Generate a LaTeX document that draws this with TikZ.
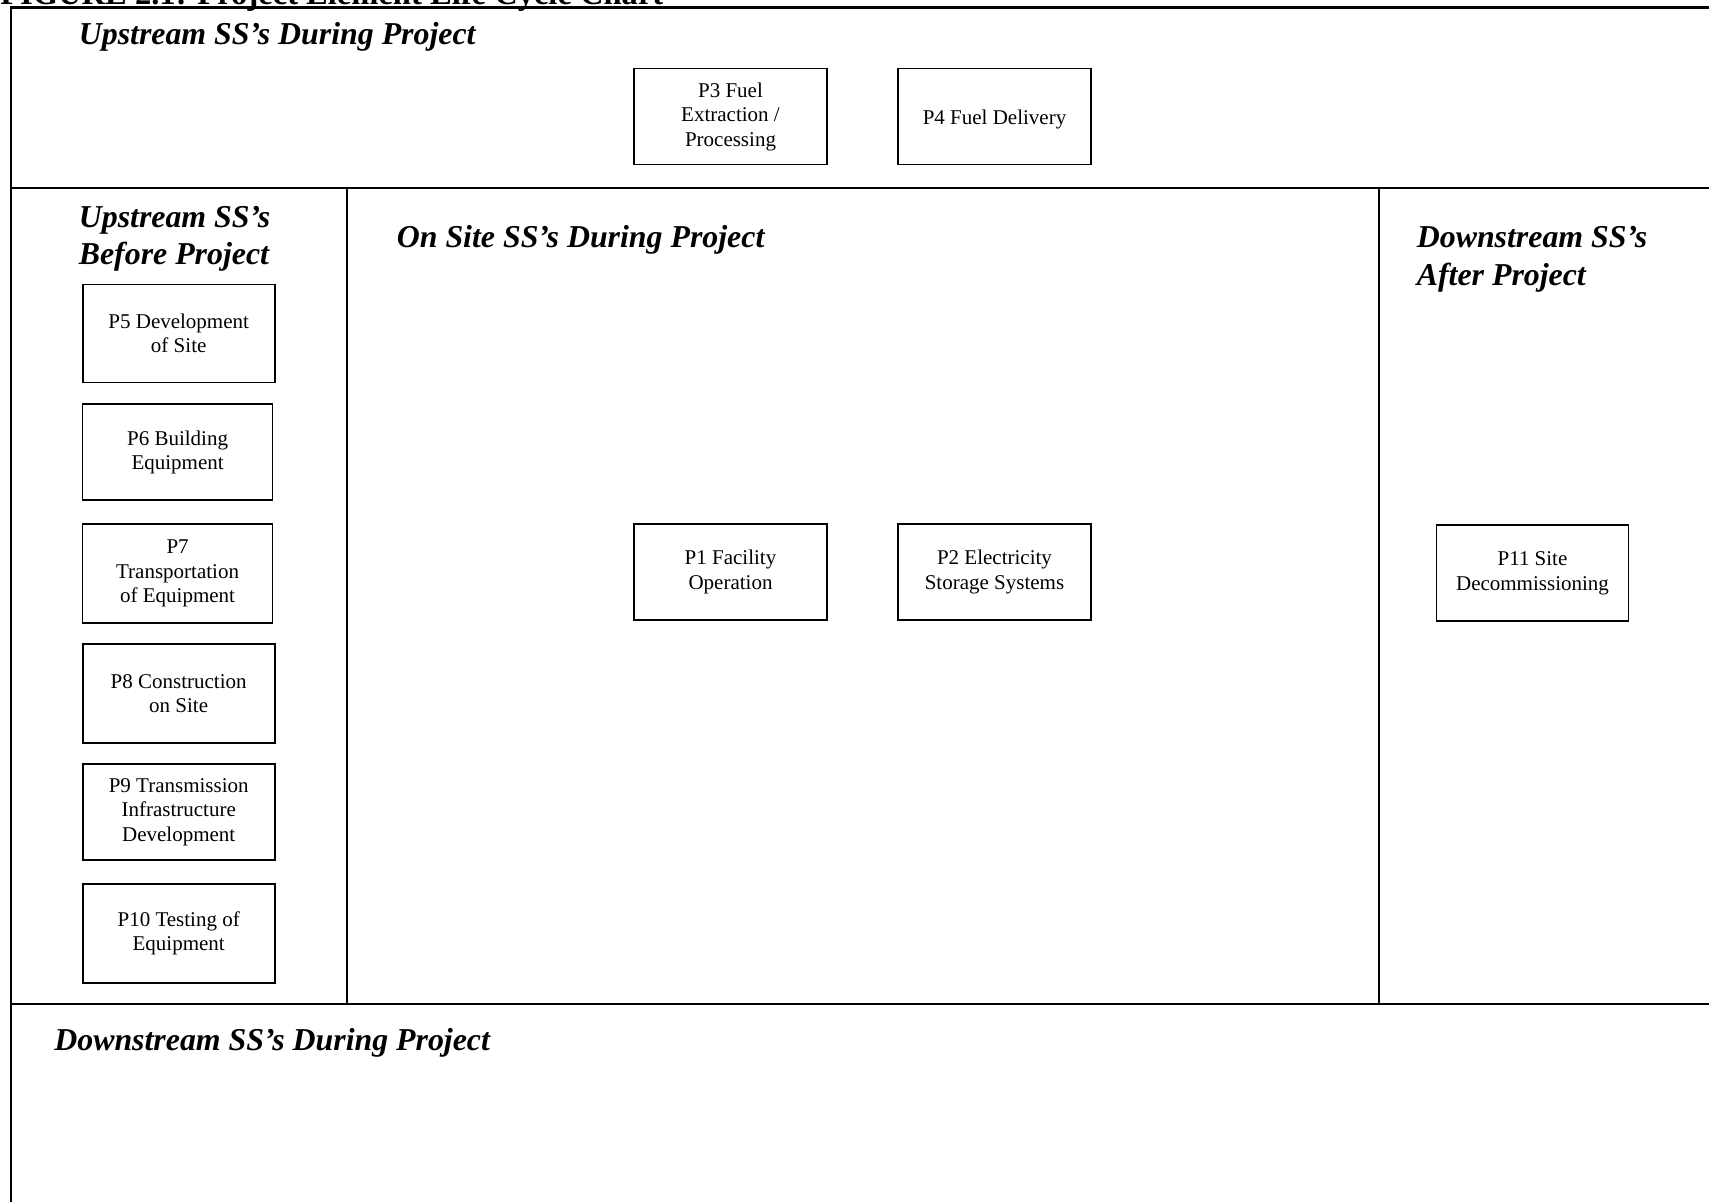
\documentclass[tikz,border=0pt]{standalone}
\usepackage{fontspec}
\setmainfont{Liberation Serif}
\begin{document}
\begin{tikzpicture}[x=0.5714pt, y=-0.5714pt,
  box/.style={draw, line width=1pt, align=center, inner sep=0pt,
    font=\fontsize{12}{14}\selectfont,
    execute at begin node={\rule{0pt}{12pt}}},
  bsize/.style 2 args={minimum width=#1*0.5714pt, minimum height=#2*0.5714pt},
  head/.style={anchor=base west, inner sep=0pt,
    font=\fontsize{18.2}{21}\selectfont\bfseries\itshape},
  frameline/.style={line width=1.15pt}]
\useasboundingbox (0,0) rectangle (1709,1202);
\clip (0,0) rectangle (1709,1202);

% title (cut off at the top)
\node[anchor=base west, inner sep=0pt, font=\fontsize{18.6}{21}\selectfont\bfseries]
  (title) at (0,5) {FIGURE 2.1: Project Element Life Cycle Chart};

% frame and region dividers
\coordinate (tl) at (11,7.5);
\draw[frameline] (11,1230) -- (tl) -- (1730,7.5);
\draw[frameline] (11,188) -- (1730,188);
\draw[frameline] (347,188) -- (347,1004);
\draw[frameline] (1379,188) -- (1379,1004);
\draw[frameline] (11,1004) -- (1730,1004);

% headings
\node[head] (hUp) at (78.5,45) {Upstream SS’s During Project};
\node[head] (hBefA) at (78.5,228) {Upstream SS’s};
\node[head] (hBefB) at (78.5,265) {Before Project};
\node[head] (hOn) at (396.5,247.5) {On Site SS’s During Project};
\node[head] (hAftA) at (1416.5,248) {Downstream SS’s};
\node[head] (hAftB) at (1416.5,285) {After Project};
\node[head] (hDown) at (54,1050) {Downstream SS’s During Project};

% upstream during project
\node[box, bsize={193}{96}] (p3) at (730.5,116.6) {P3 Fuel\\Extraction /\\Processing};
\node[box, bsize={193}{96}] (p4) at (994.5,116.6) {P4 Fuel Delivery};

% upstream before project
\node[box, bsize={192}{98}] (p5) at (178.7,333.5) {P5 Development\\of Site};
\node[box, bsize={190}{96}] (p6) at (177.6,452.3) {P6 Building\\Equipment};
\node[box, bsize={190}{99}] (p7) at (177.6,573.8) {P7\\Transportation\\of Equipment};
\node[box, bsize={192}{99}] (p8) at (178.7,693.7) {P8 Construction\\on Site};
\node[box, bsize={192}{96}] (p9) at (178.7,812) {P9 Transmission\\Infrastructure\\Development};
\node[box, bsize={192}{99}] (p10) at (178.7,933.5) {P10 Testing of\\Equipment};

% on site during project
\node[box, bsize={193}{96}] (p1) at (730.5,572) {P1 Facility\\Operation};
\node[box, bsize={193}{96}] (p2) at (994.5,572) {P2 Electricity\\Storage Systems};

% downstream after project
\node[box, bsize={192}{96}] (p11) at (1532.5,573.3) {P11 Site\\Decommissioning};
\end{tikzpicture}
\end{document}
